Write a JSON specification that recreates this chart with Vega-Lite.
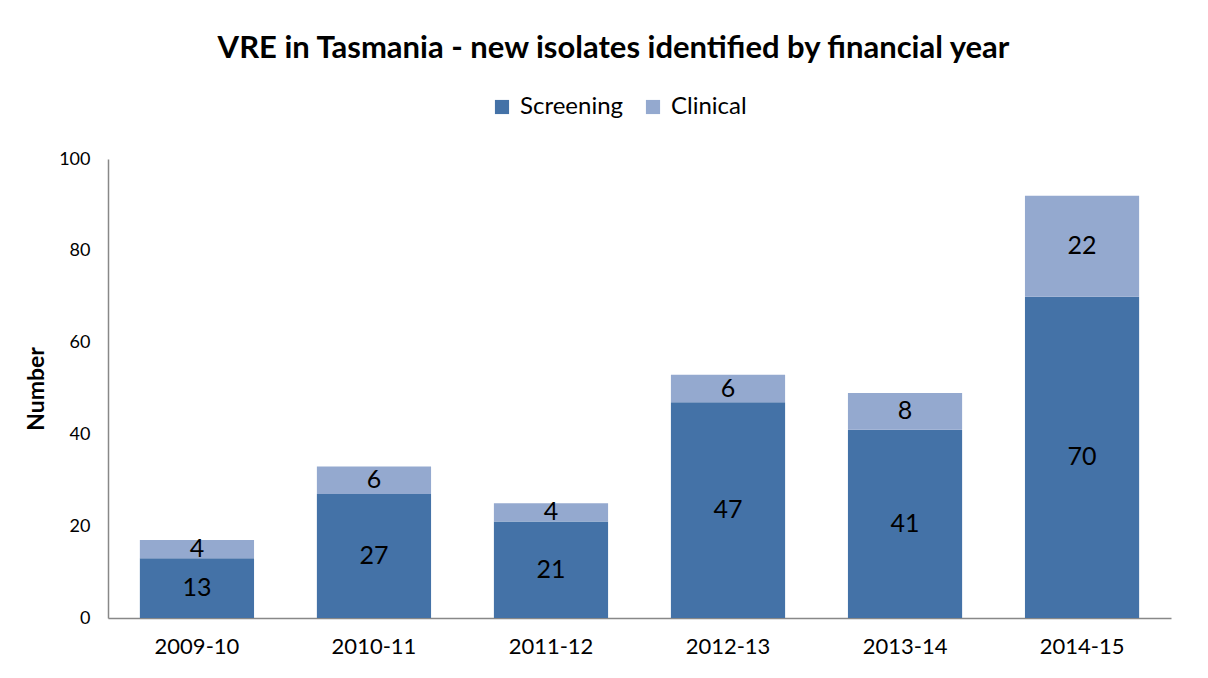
{
  "$schema": "https://vega.github.io/schema/vega-lite/v6.json",
  "width": 1063,
  "height": 459,
  "autosize": {"type": "none"},
  "padding": {"left": 108, "top": 159, "right": 37, "bottom": 60},
  "background": "white",
  "config": {
    "font": "Lato",
    "view": {"stroke": null},
    "axis": {"grid": false, "ticks": false, "domainColor": "#888888", "domainWidth": 1.5, "labelColor": "#000000", "labelFont": "Lato", "titleFont": "Lato"}
  },
  "title": {
    "text": "VRE in Tasmania - new isolates identified by financial year",
    "fontSize": 31,
    "fontWeight": "bold",
    "color": "#000000",
    "anchor": "middle",
    "frame": "group",
    "dx": -26,
    "offset": 30
  },
  "data": {
    "values": [
      {"year": "2009-10", "type": "Screening", "value": 13},
      {"year": "2009-10", "type": "Clinical", "value": 4},
      {"year": "2010-11", "type": "Screening", "value": 27},
      {"year": "2010-11", "type": "Clinical", "value": 6},
      {"year": "2011-12", "type": "Screening", "value": 21},
      {"year": "2011-12", "type": "Clinical", "value": 4},
      {"year": "2012-13", "type": "Screening", "value": 47},
      {"year": "2012-13", "type": "Clinical", "value": 6},
      {"year": "2013-14", "type": "Screening", "value": 41},
      {"year": "2013-14", "type": "Clinical", "value": 8},
      {"year": "2014-15", "type": "Screening", "value": 70},
      {"year": "2014-15", "type": "Clinical", "value": 22}
    ]
  },
  "transform": [
    {"stack": "value", "groupby": ["year"], "sort": [{"field": "type", "order": "descending"}], "as": ["y0", "y1"]},
    {"calculate": "(datum.y0 + datum.y1) / 2", "as": "labelPos"}
  ],
  "encoding": {
    "x": {
      "field": "year",
      "type": "nominal",
      "title": null,
      "scale": {"paddingInner": 0.355, "paddingOuter": 0.18},
      "axis": {"labelAngle": 0, "labelFontSize": 22, "labelPadding": 18}
    }
  },
  "layer": [
    {
      "mark": {"type": "bar"},
      "encoding": {
        "y": {
          "field": "y0",
          "type": "quantitative",
          "title": "Number",
          "scale": {"domain": [0, 100]},
          "axis": {"values": [0, 20, 40, 60, 80, 100], "labelFontSize": 18, "labelPadding": 18, "titleFontSize": 23, "titleFontWeight": "bold", "titleColor": "#000000", "titlePadding": 10}
        },
        "y2": {"field": "y1"},
        "color": {
          "field": "type",
          "type": "nominal",
          "scale": {"domain": ["Screening", "Clinical"], "range": ["#4472A7", "#94A9CF"]},
          "legend": {
            "title": null,
            "orient": "none",
            "direction": "horizontal",
            "legendX": 382,
            "legendY": -64,
            "symbolType": "square",
            "symbolSize": 200,
            "symbolStrokeWidth": 0,
            "symbolOpacity": 1,
            "labelFontSize": 24,
            "labelColor": "#000000",
            "labelOffset": 6,
            "columnPadding": 17
          }
        }
      }
    },
    {
      "mark": {"type": "text", "fontSize": 25, "color": "#000000", "align": "center", "baseline": "middle"},
      "encoding": {
        "y": {"field": "labelPos", "type": "quantitative"},
        "text": {"field": "value", "type": "quantitative"}
      }
    }
  ]
}
